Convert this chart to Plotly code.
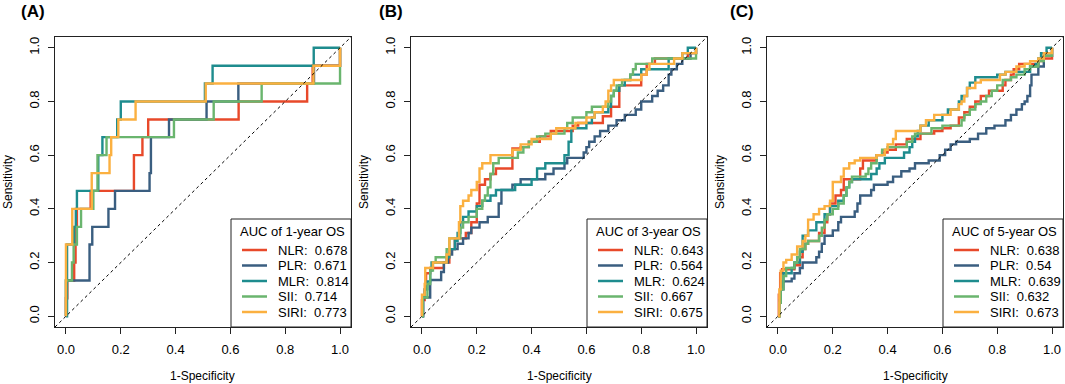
import plotly.graph_objects as go

# ---------------- data ----------------
SERIES = ["NLR", "PLR", "MLR", "SII", "SIRI"]
COLORS = ["#E8492A", "#3A5E80", "#1E8C8E", "#6AB56E", "#FBB040"]

TICK_VALUES = [0.0, 0.2, 0.4, 0.6, 0.8, 1.0]
TICK_LABELS = ["0.0", "0.2", "0.4", "0.6", "0.8", "1.0"]
AXIS_RANGE = [-0.04, 1.04]

PANEL_LABELS = ["(A)", "(B)", "(C)"]
LEGEND_TITLES = ["AUC of 1-year OS", "AUC of 3-year OS", "AUC of 5-year OS"]
A_AUC = ["0.678", "0.671", "0.814", "0.714", "0.773"]
B_AUC = ["0.643", "0.564", "0.624", "0.667", "0.675"]
C_AUC = ["0.638", "0.54", "0.639", "0.632", "0.673"]

# Panel A (1-year OS) : 1-specificity / sensitivity
A_NLR_X = [0, 0, 0.005, 0.03, 0.035, 0.04, 0.09, 0.248, 0.279, 0.3, 0.63, 0.88, 0.9, 1.0]
A_NLR_Y = [0, 0.067, 0.133, 0.2, 0.333, 0.4, 0.467, 0.6, 0.667, 0.733, 0.8, 0.867, 0.933, 1.0]
A_PLR_X = [0, 0, 0.086, 0.096, 0.155, 0.179, 0.305, 0.31, 0.376, 0.513, 0.629, 0.905, 1.0]
A_PLR_Y = [0, 0.133, 0.267, 0.333, 0.4, 0.467, 0.533, 0.667, 0.733, 0.8, 0.867, 0.933, 1.0]
A_MLR_X = [0, 0.004, 0.03, 0.036, 0.04, 0.118, 0.133, 0.187, 0.2, 0.507, 0.535, 0.904, 1.0]
A_MLR_Y = [0, 0.267, 0.333, 0.4, 0.467, 0.6, 0.667, 0.733, 0.8, 0.867, 0.933, 1.0, 1.0]
A_SII_X = [0, 0, 0.022, 0.028, 0.04, 0.055, 0.1, 0.115, 0.148, 0.394, 0.539, 0.714, 1.0]
A_SII_Y = [0, 0.133, 0.2, 0.267, 0.333, 0.4, 0.467, 0.6, 0.667, 0.733, 0.8, 0.867, 1.0]
A_SIRI_X = [0, 0, 0.023, 0.094, 0.159, 0.165, 0.191, 0.254, 0.51, 0.903, 1.0]
A_SIRI_Y = [0, 0.267, 0.4, 0.533, 0.6, 0.667, 0.733, 0.8, 0.867, 0.933, 1.0]

# Panel B (3-year OS)
B_NLR_X = [0, 0, 0.01, 0.015, 0.03, 0.08, 0.1, 0.12, 0.16, 0.18, 0.2, 0.21, 0.23, 0.25, 0.27, 0.33, 0.36, 0.39, 0.43, 0.47, 0.55, 0.57, 0.66, 0.69, 0.72, 0.8, 0.82, 0.85, 0.97, 1.0]
B_NLR_Y = [0, 0.06, 0.1, 0.16, 0.18, 0.2, 0.25, 0.29, 0.31, 0.35, 0.42, 0.49, 0.51, 0.53, 0.55, 0.625, 0.63, 0.65, 0.67, 0.69, 0.71, 0.72, 0.745, 0.78, 0.86, 0.9, 0.94, 0.96, 0.98, 1.0]
B_PLR_X = [0, 0.005, 0.03, 0.07, 0.08, 0.095, 0.11, 0.13, 0.15, 0.17, 0.18, 0.21, 0.24, 0.28, 0.29, 0.33, 0.36, 0.45, 0.48, 0.52, 0.53, 0.59, 0.6, 0.61, 0.63, 0.65, 0.68, 0.71, 0.74, 0.78, 0.8, 0.84, 0.86, 0.88, 0.9, 0.91, 0.93, 0.95, 0.98, 1.0]
B_PLR_Y = [0, 0.07, 0.135, 0.165, 0.2, 0.23, 0.25, 0.27, 0.29, 0.31, 0.33, 0.35, 0.37, 0.42, 0.47, 0.49, 0.51, 0.53, 0.55, 0.57, 0.59, 0.61, 0.63, 0.65, 0.67, 0.69, 0.71, 0.73, 0.75, 0.77, 0.8, 0.82, 0.84, 0.86, 0.9, 0.92, 0.94, 0.96, 0.98, 1.0]
B_MLR_X = [0, 0.003, 0.01, 0.02, 0.03, 0.035, 0.09, 0.1, 0.12, 0.13, 0.14, 0.15, 0.17, 0.2, 0.22, 0.25, 0.27, 0.34, 0.4, 0.42, 0.45, 0.52, 0.535, 0.545, 0.6, 0.62, 0.63, 0.68, 0.69, 0.7, 0.72, 0.74, 0.76, 0.8, 0.9, 0.95, 0.97, 1.0]
B_MLR_Y = [0, 0.07, 0.1, 0.13, 0.17, 0.2, 0.22, 0.25, 0.28, 0.31, 0.35, 0.37, 0.39, 0.41, 0.43, 0.45, 0.47, 0.49, 0.51, 0.55, 0.57, 0.6, 0.65, 0.7, 0.72, 0.74, 0.76, 0.78, 0.82, 0.84, 0.86, 0.88, 0.9, 0.92, 0.96, 0.98, 1.0, 1.0]
B_SII_X = [0, 0.003, 0.02, 0.03, 0.04, 0.05, 0.09, 0.1, 0.14, 0.15, 0.17, 0.2, 0.22, 0.23, 0.24, 0.25, 0.26, 0.28, 0.35, 0.37, 0.39, 0.42, 0.45, 0.52, 0.53, 0.55, 0.6, 0.62, 0.68, 0.69, 0.7, 0.71, 0.73, 0.76, 0.77, 0.78, 0.84, 1.0]
B_SII_Y = [0, 0.07, 0.12, 0.17, 0.2, 0.22, 0.25, 0.29, 0.33, 0.35, 0.37, 0.4, 0.43, 0.45, 0.48, 0.53, 0.57, 0.59, 0.61, 0.63, 0.65, 0.67, 0.68, 0.7, 0.72, 0.74, 0.76, 0.78, 0.8, 0.82, 0.84, 0.86, 0.88, 0.9, 0.92, 0.94, 0.96, 1.0]
B_SIRI_X = [0, 0, 0.01, 0.012, 0.04, 0.09, 0.1, 0.135, 0.14, 0.15, 0.17, 0.18, 0.2, 0.21, 0.22, 0.25, 0.33, 0.36, 0.4, 0.47, 0.49, 0.56, 0.6, 0.63, 0.66, 0.67, 0.68, 0.69, 0.7, 0.8, 0.82, 0.83, 0.92, 0.95, 1.0]
B_SIRI_Y = [0, 0.08, 0.12, 0.18, 0.2, 0.23, 0.29, 0.35, 0.41, 0.43, 0.45, 0.47, 0.5, 0.55, 0.57, 0.6, 0.62, 0.64, 0.66, 0.68, 0.7, 0.72, 0.74, 0.76, 0.78, 0.8, 0.84, 0.86, 0.88, 0.9, 0.92, 0.94, 0.96, 0.98, 1.0]

# Panel C (5-year OS)
C_NLR_X = [0, 0.003, 0.008, 0.015, 0.06, 0.08, 0.09, 0.1, 0.11, 0.15, 0.17, 0.18, 0.19, 0.21, 0.23, 0.24, 0.3, 0.31, 0.36, 0.38, 0.4, 0.43, 0.47, 0.52, 0.57, 0.6, 0.63, 0.66, 0.68, 0.7, 0.72, 0.74, 0.77, 0.82, 0.83, 0.85, 0.86, 0.88, 0.95, 0.97, 1.0, 1.0]
C_NLR_Y = [0, 0.08, 0.16, 0.175, 0.19, 0.22, 0.25, 0.27, 0.28, 0.31, 0.35, 0.38, 0.42, 0.45, 0.47, 0.51, 0.55, 0.58, 0.6, 0.61, 0.62, 0.64, 0.66, 0.68, 0.69, 0.7, 0.71, 0.74, 0.76, 0.78, 0.8, 0.82, 0.84, 0.86, 0.88, 0.9, 0.92, 0.94, 0.95, 0.96, 0.97, 1.0]
C_PLR_X = [0, 0.005, 0.01, 0.02, 0.05, 0.06, 0.08, 0.09, 0.14, 0.15, 0.16, 0.17, 0.2, 0.22, 0.23, 0.28, 0.29, 0.3, 0.34, 0.35, 0.4, 0.42, 0.45, 0.48, 0.5, 0.55, 0.59, 0.61, 0.63, 0.65, 0.7, 0.73, 0.76, 0.79, 0.83, 0.85, 0.87, 0.89, 0.9, 0.91, 0.92, 0.925, 0.95, 0.97, 1.0]
C_PLR_Y = [0, 0.06, 0.1, 0.13, 0.14, 0.16, 0.18, 0.2, 0.22, 0.24, 0.27, 0.3, 0.32, 0.35, 0.37, 0.39, 0.42, 0.45, 0.47, 0.49, 0.5, 0.52, 0.54, 0.55, 0.57, 0.58, 0.6, 0.62, 0.64, 0.65, 0.66, 0.68, 0.7, 0.71, 0.73, 0.75, 0.77, 0.79, 0.8, 0.82, 0.86, 0.9, 0.93, 0.97, 1.0]
C_MLR_X = [0, 0.005, 0.01, 0.015, 0.02, 0.05, 0.06, 0.08, 0.09, 0.11, 0.14, 0.17, 0.19, 0.22, 0.24, 0.25, 0.26, 0.27, 0.34, 0.36, 0.37, 0.39, 0.46, 0.48, 0.49, 0.5, 0.51, 0.52, 0.55, 0.6, 0.62, 0.66, 0.67, 0.69, 0.7, 0.72, 0.8, 0.83, 0.92, 0.94, 0.95, 0.96, 0.98, 1.0]
C_MLR_Y = [0, 0.05, 0.1, 0.13, 0.16, 0.18, 0.2, 0.24, 0.3, 0.32, 0.35, 0.38, 0.41, 0.43, 0.45, 0.48, 0.5, 0.51, 0.53, 0.55, 0.57, 0.59, 0.61, 0.63, 0.65, 0.67, 0.69, 0.71, 0.73, 0.75, 0.77, 0.8, 0.82, 0.85, 0.87, 0.89, 0.9, 0.91, 0.93, 0.94, 0.96, 0.98, 1.0, 1.0]
C_SII_X = [0, 0.005, 0.01, 0.02, 0.03, 0.06, 0.07, 0.08, 0.1, 0.11, 0.15, 0.16, 0.17, 0.18, 0.2, 0.22, 0.24, 0.25, 0.26, 0.27, 0.32, 0.33, 0.34, 0.36, 0.38, 0.4, 0.47, 0.49, 0.5, 0.56, 0.6, 0.67, 0.68, 0.7, 0.72, 0.74, 0.76, 0.78, 0.8, 0.82, 0.85, 0.87, 0.9, 0.92, 0.95, 0.97, 1.0, 1.0]
C_SII_Y = [0, 0.05, 0.1, 0.15, 0.18, 0.2, 0.22, 0.25, 0.27, 0.28, 0.3, 0.33, 0.36, 0.38, 0.4, 0.42, 0.45, 0.48, 0.5, 0.52, 0.53, 0.55, 0.57, 0.6, 0.62, 0.63, 0.65, 0.67, 0.68, 0.7, 0.71, 0.73, 0.75, 0.77, 0.79, 0.8, 0.82, 0.84, 0.86, 0.88, 0.89, 0.9, 0.92, 0.93, 0.95, 0.97, 0.98, 1.0]
C_SIRI_X = [0, 0.005, 0.01, 0.02, 0.03, 0.05, 0.07, 0.09, 0.1, 0.11, 0.13, 0.15, 0.17, 0.19, 0.2, 0.23, 0.24, 0.26, 0.28, 0.3, 0.36, 0.39, 0.4, 0.42, 0.43, 0.52, 0.54, 0.57, 0.63, 0.66, 0.67, 0.68, 0.69, 0.72, 0.74, 0.81, 0.83, 0.87, 0.9, 0.92, 0.95, 0.97, 1.0]
C_SIRI_Y = [0, 0.1, 0.17, 0.2, 0.21, 0.23, 0.26, 0.28, 0.3, 0.36, 0.38, 0.4, 0.41, 0.43, 0.5, 0.52, 0.55, 0.57, 0.58, 0.59, 0.6, 0.62, 0.64, 0.66, 0.69, 0.71, 0.73, 0.75, 0.77, 0.79, 0.8, 0.82, 0.85, 0.87, 0.88, 0.9, 0.91, 0.93, 0.94, 0.95, 0.96, 0.98, 1.0]

PANELS = [
    [(A_NLR_X, A_NLR_Y), (A_PLR_X, A_PLR_Y), (A_MLR_X, A_MLR_Y), (A_SII_X, A_SII_Y), (A_SIRI_X, A_SIRI_Y)],
    [(B_NLR_X, B_NLR_Y), (B_PLR_X, B_PLR_Y), (B_MLR_X, B_MLR_Y), (B_SII_X, B_SII_Y), (B_SIRI_X, B_SIRI_Y)],
    [(C_NLR_X, C_NLR_Y), (C_PLR_X, C_PLR_Y), (C_MLR_X, C_MLR_Y), (C_SII_X, C_SII_Y), (C_SIRI_X, C_SIRI_Y)],
]
AUCS = [A_AUC, B_AUC, C_AUC]

# ---------------- layout geometry (pixels) ----------------
W, H = 1065, 384
BOX_L = [55, 411, 767]
BOX_R = [351, 707, 1063]
BOX_T, BOX_B = 37, 327
LABEL_LEFT = [19, 377, 728]
FONT = "Liberation Sans, Arial, Helvetica, sans-serif"


def fx(p):
    return p / W


def fy(p):
    return 1 - p / H


fig = go.Figure()
shapes = []
annotations = []

for i in range(3):
    xa = "x" if i == 0 else f"x{i+1}"
    ya = "y" if i == 0 else f"y{i+1}"
    for k, (xs, ys) in enumerate(PANELS[i]):
        fig.add_trace(go.Scatter(
            x=xs, y=ys, mode="lines", line=dict(color=COLORS[k], width=2.4, shape="hv"),
            xaxis=xa, yaxis=ya, showlegend=False, hoverinfo="skip"))
    # diagonal reference
    fig.add_trace(go.Scatter(
        x=AXIS_RANGE, y=AXIS_RANGE, mode="lines",
        line=dict(color="black", width=1, dash="3px,3px"),
        xaxis=xa, yaxis=ya, showlegend=False, hoverinfo="skip"))

    axis_common = dict(
        range=AXIS_RANGE, showgrid=False, zeroline=False, showline=True, mirror=True,
        linecolor="#222", linewidth=1, ticks="outside", ticklen=6, tickwidth=1, tickcolor="#222",
        tickvals=TICK_VALUES, ticktext=TICK_LABELS, tickfont=dict(family=FONT, size=13, color="black"),
        fixedrange=True,
    )
    fig.update_layout(**{
        ("xaxis" if i == 0 else f"xaxis{i+1}"): dict(
            axis_common, domain=[fx(BOX_L[i]), fx(BOX_R[i])], anchor=ya, ticklabelstandoff=4),
        ("yaxis" if i == 0 else f"yaxis{i+1}"): dict(
            axis_common, domain=[fy(BOX_B), fy(BOX_T)], anchor=xa, tickangle=-90, ticklabelstandoff=4),
    })

    # axis titles
    annotations.append(dict(x=fx((BOX_L[i] + BOX_R[i]) / 2), y=fy(376), xref="paper", yref="paper",
                            text="1-Specificity", showarrow=False, xanchor="center", yanchor="middle",
                            font=dict(family=FONT, size=12, color="black")))
    annotations.append(dict(x=fx(BOX_L[i] - 47), y=fy((BOX_T + BOX_B) / 2), xref="paper", yref="paper",
                            text="Sensitivity", showarrow=False, textangle=-90, xanchor="center", yanchor="middle",
                            font=dict(family=FONT, size=12, color="black")))
    # panel label
    annotations.append(dict(x=fx(LABEL_LEFT[i]), y=fy(11), xref="paper", yref="paper",
                            text=f"<b>{PANEL_LABELS[i]}</b>", showarrow=False, xanchor="left", yanchor="middle",
                            font=dict(family=FONT, size=17, color="black")))

    # legend box
    lx = BOX_L[i] + 176
    shapes.append(dict(type="rect", xref="paper", yref="paper", x0=fx(lx), x1=fx(BOX_R[i]),
                       y0=fy(BOX_B), y1=fy(219), line=dict(color="#222", width=1), fillcolor="white",
                       layer="above"))
    annotations.append(dict(x=fx(lx + 7), y=fy(231), xref="paper", yref="paper", text=LEGEND_TITLES[i],
                            showarrow=False, xanchor="left", yanchor="middle",
                            font=dict(family=FONT, size=13, color="black")))
    rows = [250, 265.5, 281, 296.5, 312]
    for k, name in enumerate(SERIES):
        shapes.append(dict(type="line", xref="paper", yref="paper", x0=fx(lx + 11), x1=fx(lx + 36),
                           y0=fy(rows[k]), y1=fy(rows[k]), line=dict(color=COLORS[k], width=2.5),
                           layer="above"))
        annotations.append(dict(x=fx(lx + 45), y=fy(rows[k]), xref="paper", yref="paper",
                                text=f"{name}:\u00a0 {AUCS[i][k]}", showarrow=False, xanchor="left",
                                yanchor="middle", font=dict(family=FONT, size=13, color="black")))

fig.update_layout(
    width=W, height=H, margin=dict(l=0, r=0, t=0, b=0),
    paper_bgcolor="white", plot_bgcolor="white",
    shapes=shapes, annotations=annotations, showlegend=False,
)

fig.write_html(
    "out.html",
    config={"displayModeBar": False, "staticPlot": True},
    post_script="document.body.style.margin='0';document.body.style.padding='0';"
                "document.body.style.overflow='hidden';",
)
